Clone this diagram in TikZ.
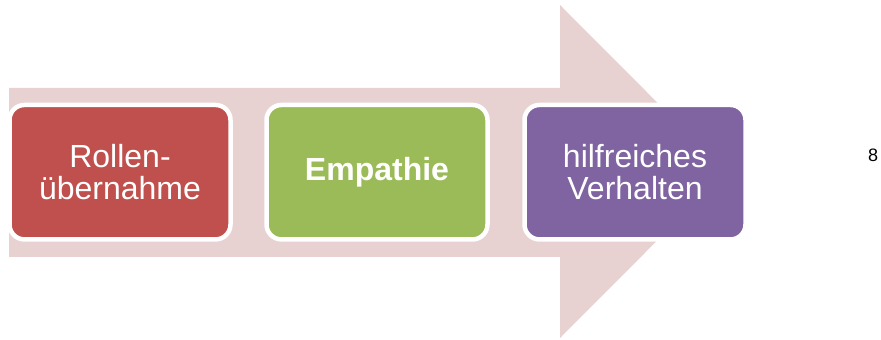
\documentclass[tikz,border=0pt]{standalone}
\usepackage{fontspec}
\setmainfont{Liberation Sans}
\usepackage{tikz}
\definecolor{arrowbg}{RGB}{231,209,209}
\definecolor{rcol}{RGB}{192,80,77}
\definecolor{gcol}{RGB}{155,187,89}
\definecolor{pcol}{RGB}{128,100,162}
\tikzset{
  stepbox/.style={rectangle,rounded corners=15pt,draw=white,line width=4.5pt,
    minimum width=221pt,minimum height=134.5pt,inner sep=0pt,align=center,
    text=white,font=\fontsize{32}{32}\selectfont}
}

\begin{document}
\begin{tikzpicture}[x=1pt,y=1pt]
\useasboundingbox (0,0) rectangle (881,340);
% big background arrow
\coordinate (a0) at (9,252);
\coordinate (a1) at (560,252);
\coordinate (a2) at (560,335);
\coordinate (tip) at (726,168.5);
\coordinate (a3) at (560,2);
\coordinate (a4) at (560,83);
\coordinate (a5) at (9,83);
\fill[arrowbg] (a0)--(a1)--(a2)--(tip)--(a3)--(a4)--(a5)--cycle;
% steps
\node[stepbox,fill=rcol] (roll) at (120,167.8) {Rollen-\\übernahme};
\node[stepbox,fill=gcol,font=\fontsize{32}{32}\selectfont\bfseries] (emp) at (377,167.8) {Empathie};
\node[stepbox,fill=pcol] (hilf) at (635,167.8) {hilfreiches\\Verhalten};
\node[font=\fontsize{18}{20}\selectfont] (pnum) at (873,185) {8};
\end{tikzpicture}
\end{document}
